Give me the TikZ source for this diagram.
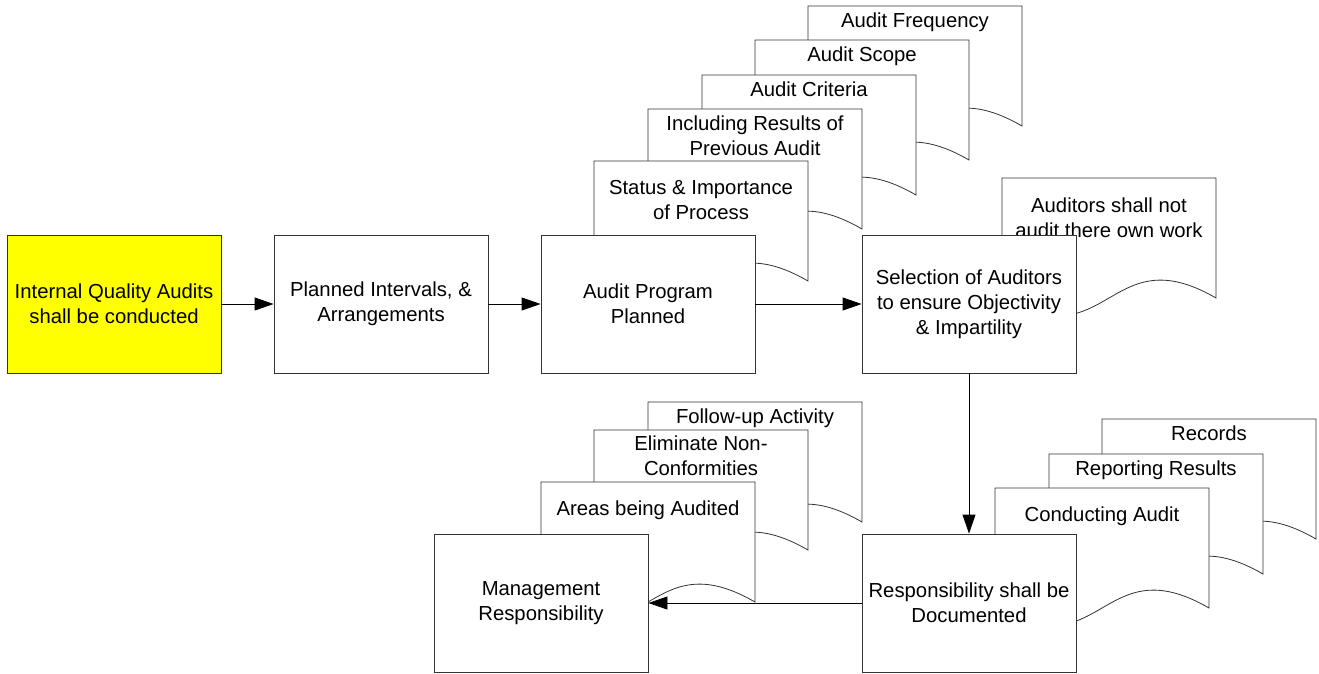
\documentclass[tikz,border=0pt]{standalone}
\usepackage{fontspec}
\setmainfont{Liberation Sans}
\usetikzlibrary{arrows.meta}

\definecolor{qayellow}{RGB}{255,255,0}
\newcommand\qafont{\fontsize{20.3}{25}\selectfont}
% document shape: name, top-left x, top-left y, text drop, text
\newcommand\qadoc[5]{%
  \filldraw[draw=black!80, fill=white, line width=0.8pt] (#2,#3) -- ({#2+214},#3) -- ({#2+214},{#3+120})
    .. controls ({#2+107},{#3+58}) and ({#2+107},{#3+182}) .. (#2,{#3+120}) -- cycle;
  \node[doctext] (#1) at ({#2+107},{#3+#4}) {#5};
}
\tikzset{
  box/.style={draw=black!80, line width=0.8pt, fill=white, minimum width=214pt, minimum height=138pt, inner sep=0pt, align=center, font=\qafont},
  doctext/.style={anchor=north, inner sep=0pt, align=center, font=\qafont},
  flow/.style={draw=black, line width=0.8pt, -{Triangle[length=19pt,width=13pt]}}
}

\begin{document}
\begin{tikzpicture}[x=1pt, y=-1pt]
  \useasboundingbox (0,0) rectangle (1319,673);
  % documents behind the program box
  \qadoc{freq}{808}{6}{7}{Audit Frequency}
  \qadoc{scope}{755}{40}{7}{Audit Scope}
  \qadoc{criteria}{702}{75}{7}{Audit Criteria}
  \qadoc{results}{648}{109}{7}{Including Results of\\Previous Audit}
  \qadoc{status}{594}{161}{19}{Status \& Importance\\of Process}
  \qadoc{ownwork}{1002}{178}{20}{Auditors shall not\\audit there own work}
  \qadoc{followup}{648}{402}{7}{Follow-up Activity}
  \qadoc{eliminate}{594}{430}{6}{Eliminate Non-\\Conformities}
  \qadoc{areas}{541}{482}{19}{Areas being Audited}
  \qadoc{records}{1102}{419}{7}{Records}
  \qadoc{reporting}{1049}{454}{7}{Reporting Results}
  \qadoc{conducting}{995}{488}{19}{Conducting Audit}

  \node[box, fill=qayellow] (iqa) at (114,304) {Internal Quality Audits\\shall be conducted};
  \node[box] (plan) at (381,304) {Planned Intervals, \&\\Arrangements};
  \node[box] (program) at (648,304) {Audit Program\\Planned};
  \node[box] (select) at (969,304) {Selection of Auditors\\to ensure Objectivity\\\& Impartility};
  \node[box] (resp) at (969,603) {Responsibility shall be\\Documented};
  \node[box] (mgmt) at (541,603) {Management\\Responsibility};

  \draw[flow] (iqa) -- (plan);
  \draw[flow] (plan) -- (program);
  \draw[flow] (program) -- (select);
  \draw[flow] (select) -- (resp);
  \draw[flow] (resp) -- (mgmt);
\end{tikzpicture}
\end{document}
